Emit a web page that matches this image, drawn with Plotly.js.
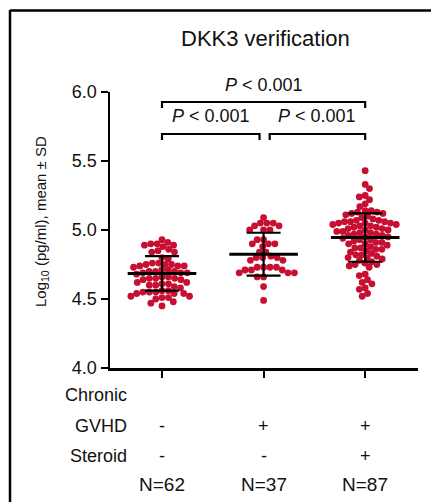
<!DOCTYPE html>
<html>
<head>
<meta charset="utf-8">
<script src="https://cdn.plot.ly/plotly-3.0.1.min.js"></script>
<style>html,body{margin:0;padding:0;background:#fff;}#chart{width:431px;height:502px;}</style>
</head>
<body>
<div id="chart"></div>
<script>
// ---- data ----
const groupPos = [1, 2, 3];
const noGvhd = [4.93,
  4.91, 4.90, 4.90, 4.89, 4.89, 4.88,
  4.86, 4.85, 4.84, 4.84,
  4.80, 4.79,
  4.76, 4.76, 4.75, 4.75, 4.75, 4.74, 4.74, 4.74, 4.73,
  4.71, 4.71, 4.70, 4.70, 4.70, 4.69, 4.69, 4.69, 4.68,
  4.66, 4.66, 4.65, 4.65, 4.65, 4.64, 4.64,
  4.62, 4.62, 4.61, 4.61, 4.60, 4.60, 4.59, 4.58,
  4.56, 4.56, 4.55, 4.55, 4.55, 4.54, 4.54, 4.54,
  4.52, 4.52, 4.51, 4.51, 4.50,
  4.48, 4.47,
  4.45];
const gvhdNoSteroid = [5.09,
  5.05, 5.05, 5.05, 5.03, 5.03,
  5.00, 5.00, 5.00,
  4.93, 4.93,
  4.90, 4.90, 4.90, 4.88,
  4.84, 4.84,
  4.80, 4.80, 4.80, 4.81,
  4.78, 4.78,
  4.73, 4.73, 4.73, 4.73,
  4.71, 4.71, 4.71,
  4.69, 4.69, 4.69,
  4.66, 4.66,
  4.59,
  4.49];
const gvhdSteroid = [5.43,
  5.33, 5.30,
  5.25, 5.24, 5.22,
  5.19, 5.17,
  5.14, 5.14, 5.13, 5.13, 5.12, 5.12, 5.11, 5.10, 5.09, 5.08,
  5.07, 5.07, 5.06, 5.06, 5.06, 5.05, 5.05, 5.05, 5.04, 5.04,
  5.03, 5.03, 5.02, 5.02, 5.01, 5.01, 5.00, 5.00,
  4.99, 4.99, 4.98, 4.98, 4.97, 4.97, 4.96, 4.96, 4.95, 4.95,
  4.94, 4.93, 4.93, 4.92, 4.91, 4.91, 4.90, 4.90, 4.89,
  4.88, 4.87, 4.87, 4.86, 4.86, 4.85, 4.84, 4.83, 4.82, 4.82,
  4.81, 4.80, 4.80, 4.79, 4.78, 4.77, 4.76, 4.75, 4.75, 4.74, 4.73,
  4.68, 4.67,
  4.64, 4.62, 4.61,
  4.58, 4.57,
  4.54, 4.52];
const means = [4.685, 4.825, 4.945];
const sds = [0.125, 0.155, 0.175];
const rowLabels = ['Chronic', 'GVHD', 'Steroid'];
const gvhdSigns = ['-', '+', '+'];
const steroidSigns = ['-', '-', '+'];
const nLabels = ['N=62', 'N=37', 'N=87'];
const yTicks = [4.0, 4.5, 5.0, 5.5, 6.0];
const comparisons = [[1, 3, '<i>P</i> &lt; 0.001'], [1, 2, '<i>P</i> &lt; 0.001'], [2, 3, '<i>P</i> &lt; 0.001']];
const chartTitle = 'DKK3 verification';
const yTitle = 'Log<sub>10</sub> (pg/ml), mean ± SD';

// ---- layout geometry ----
const W = 431, H = 502;
const M = {l: 110, r: 13, t: 92, b: 134};
const plotW = W - M.l - M.r, plotH = H - M.t - M.b;
const xRange = [0.488, 3.52];
const yRange = [4, 6];
const pxPerX = plotW / (xRange[1] - xRange[0]);
const pxPerY = plotH / (yRange[1] - yRange[0]);
const px2paperX = p => (p - M.l) / plotW;
const px2paperY = p => (M.t + plotH - p) / plotH;
const RED = '#c70f32';
const FONT = 'Liberation Sans, Arial, Helvetica, sans-serif';
const swarmGap = [6.4, 6.4, 6.0];

// beeswarm layout (pixel space), returns x offsets in data units
function swarm(vals, dist) {
  const idx = vals.map((v, i) => i).sort((a, b) => vals[b] - vals[a]);
  const placed = [];
  const off = new Array(vals.length).fill(0);
  let flip = 1;
  idx.forEach(i => {
    const y = vals[i] * pxPerY;
    const cands = [0];
    placed.forEach(p => {
      const dy = Math.abs(p.y - y);
      if (dy < dist) {
        const dx = Math.sqrt(dist * dist - dy * dy) + 0.01;
        cands.push(p.x + dx, p.x - dx);
      }
    });
    cands.sort((a, b) => (Math.abs(a) - Math.abs(b)) || (flip * (b - a)));
    let chosen = 0;
    for (const c of cands) {
      if (placed.every(p => (p.x - c) ** 2 + (p.y - y) ** 2 >= dist * dist - 0.001)) { chosen = c; break; }
    }
    if (chosen !== 0) flip = -flip;
    placed.push({x: chosen, y: y});
    off[i] = chosen / pxPerX;
  });
  return off;
}

const groups = [noGvhd, gvhdNoSteroid, gvhdSteroid];
const traces = [];
groups.forEach((vals, g) => {
  const off = swarm(vals, swarmGap[g]);
  traces.push({
    type: 'scatter', mode: 'markers', hoverinfo: 'y',
    x: off.map(o => groupPos[g] + o), y: vals,
    marker: {color: RED, size: 6.8, line: {width: 0}},
    showlegend: false, cliponaxis: false
  });
});
// mean lines + SD error bars
traces.push({
  type: 'scatter', mode: 'markers', x: groupPos, y: means,
  marker: {symbol: 'line-ew', size: 49, color: '#000', line: {color: '#000', width: 3}},
  error_y: {type: 'data', array: sds, visible: true, color: '#000', thickness: 2.2, width: 17},
  showlegend: false, cliponaxis: false, hoverinfo: 'y'
});

const shapes = [];
const annotations = [];
// frame
shapes.push({type: 'line', xref: 'paper', yref: 'paper', x0: px2paperX(10), x1: px2paperX(10), y0: px2paperY(10), y1: px2paperY(H + 5), line: {color: '#000', width: 2.5}});
shapes.push({type: 'line', xref: 'paper', yref: 'paper', x0: px2paperX(10), x1: px2paperX(W + 5), y0: px2paperY(10.5), y1: px2paperY(10.5), line: {color: '#000', width: 2.5}});
// significance brackets
const bracketRows = [{y: 102, ty: 85}, {y: 134, ty: 116}, {y: 134, ty: 116}];
comparisons.forEach((c, k) => {
  const r = bracketRows[k];
  let a = c[0], b = c[1];
  if (k === 1) b = b - 0.04;
  if (k === 2) a = a + 0.06;
  const yl = px2paperY(r.y), yt = px2paperY(r.y + 6);
  shapes.push({type: 'path', xref: 'x', yref: 'paper',
    path: `M ${a},${yt} L ${a},${yl} L ${b},${yl} L ${b},${yt}`,
    line: {color: '#000', width: 2.2}});
  annotations.push({xref: 'x', yref: 'paper', x: (a + b) / 2, y: px2paperY(r.ty), text: c[2],
    showarrow: false, font: {family: FONT, size: 18, color: '#111'}, xanchor: 'center', yanchor: 'middle'});
});
// title
annotations.push({xref: 'paper', yref: 'paper', x: px2paperX(265), y: px2paperY(38), text: chartTitle,
  showarrow: false, font: {family: FONT, size: 22, color: '#111'}, xanchor: 'center', yanchor: 'middle'});
// y title
annotations.push({xref: 'paper', yref: 'paper', x: px2paperX(41), y: px2paperY(222), text: yTitle, textangle: -90,
  showarrow: false, font: {family: 'Liberation Sans Narrow, Arial Narrow, Liberation Sans, Arial, sans-serif', size: 15, color: '#111'},
  xanchor: 'center', yanchor: 'middle'});
// category rows
const rowY = [395, 426, 456];
rowLabels.forEach((t, i) => {
  annotations.push({xref: 'paper', yref: 'paper', x: px2paperX(129), y: px2paperY(rowY[i]), text: t,
    showarrow: false, font: {family: FONT, size: 18, color: '#111'}, xanchor: 'right', yanchor: 'middle'});
});
[gvhdSigns, steroidSigns].forEach((arr, r) => {
  arr.forEach((s, g) => {
    annotations.push({xref: 'x', yref: 'paper', x: groupPos[g], y: px2paperY(rowY[r + 1]), text: s,
      showarrow: false, font: {family: FONT, size: 18, color: '#111'}, xanchor: 'center', yanchor: 'middle'});
  });
});
nLabels.forEach((t, g) => {
  annotations.push({xref: 'x', yref: 'paper', x: groupPos[g], y: px2paperY(484), text: t,
    showarrow: false, font: {family: FONT, size: 19, color: '#111'}, xanchor: 'center', yanchor: 'middle'});
});

const layout = {
  width: W, height: H, autosize: false,
  margin: M, paper_bgcolor: '#fff', plot_bgcolor: '#fff',
  showlegend: false,
  xaxis: {range: xRange, tickvals: groupPos, showticklabels: false, ticks: 'outside', ticklen: 7, tickwidth: 2,
    tickcolor: '#000', showline: true, linecolor: '#000', linewidth: 2.5, showgrid: false, zeroline: false, fixedrange: true},
  yaxis: {range: yRange, tickvals: yTicks, ticktext: yTicks.map(v => v.toFixed(1)), ticks: 'outside', ticklen: 7, tickwidth: 2,
    tickcolor: '#000', showline: true, linecolor: '#000', linewidth: 2.5, showgrid: false, zeroline: false,
    tickfont: {family: FONT, size: 18, color: '#111'}, fixedrange: true},
  shapes: shapes, annotations: annotations
};
Plotly.newPlot('chart', traces, layout, {displayModeBar: false, staticPlot: true});
</script>
</body>
</html>
